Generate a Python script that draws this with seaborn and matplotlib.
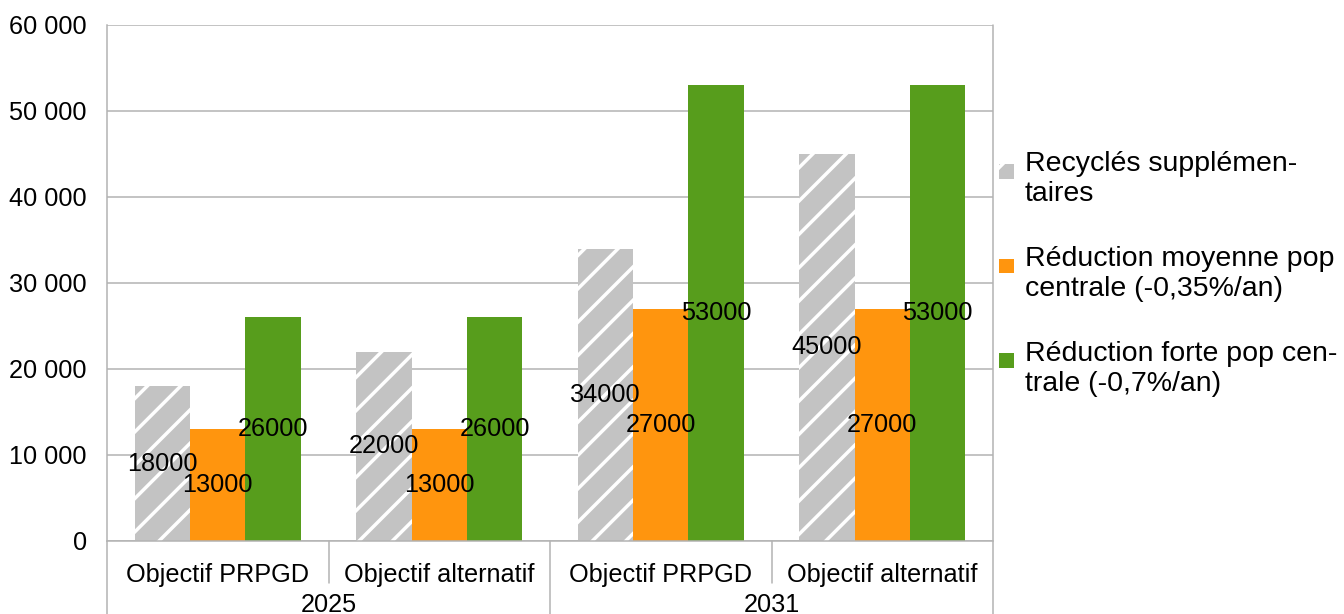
"""Recyclés supplémentaires vs réduction de population, objectifs 2025 / 2031."""

import matplotlib

matplotlib.use("Agg")
import matplotlib.pyplot as plt
import matplotlib.transforms as mtransforms
import pandas as pd
import seaborn as sns
from matplotlib.legend_handler import HandlerPatch
from matplotlib.patches import Patch, Rectangle
from matplotlib.ticker import FuncFormatter, MultipleLocator

# --- data -------------------------------------------------------------------
annees = ["2025", "2031"]
objectifs = ["Objectif PRPGD", "Objectif alternatif"]
series = [
    "Recyclés supplémen-\ntaires",
    "Réduction moyenne pop\ncentrale (-0,35%/an)",
    "Réduction forte pop cen-\ntrale (-0,7%/an)",
]
recycles = [18000, 22000, 34000, 45000]
reduction_moyenne = [13000, 13000, 27000, 27000]
reduction_forte = [26000, 26000, 53000, 53000]

couleurs = ["#c3c3c3", "#ff950e", "#579d1c"]
GRIS = "#b3b3b3"

cles = [f"{a} {o}" for a in annees for o in objectifs]
df = pd.concat(
    [
        pd.DataFrame({"cle": cles, "serie": s, "valeur": v})
        for s, v in zip(series, [recycles, reduction_moyenne, reduction_forte])
    ],
    ignore_index=True,
)

# --- figure -----------------------------------------------------------------
DPI = 100
W, H = 1344, 614
sns.set_style("white")
plt.rcParams["font.family"] = ["Liberation Sans", "DejaVu Sans"]
plt.rcParams["text.color"] = "black"
plt.rcParams["ytick.labelcolor"] = "black"
plt.rcParams["hatch.linewidth"] = 2.5
FS = 18.2
FS_LEG = 20.5

fig = plt.figure(figsize=(W / DPI, H / DPI), dpi=DPI)
x0, x1, y0, y1 = 107, 993, 25, 541
ax = fig.add_axes([x0 / W, 1 - y1 / H, (x1 - x0) / W, (y1 - y0) / H])
ax.set_axisbelow(True)

sns.barplot(
    data=df, x="cle", y="valeur", hue="serie", order=cles, hue_order=series,
    palette=dict(zip(series, couleurs)), width=0.75, saturation=1,
    legend=False, ax=ax, err_kws={"linewidth": 0},
)

for i, cont in enumerate(ax.containers):
    for bar in cont:
        bar.set_linewidth(0)
        if i == 0:
            bar.set_edgecolor("white")
            bar.set_hatch("/")
    ax.bar_label(cont, fmt="{:.0f}", label_type="center", fontsize=FS, color="black")

ax.set_xlim(-0.5, len(cles) - 0.5)
ax.set_ylim(0, 60000)
ax.yaxis.set_major_locator(MultipleLocator(10000))
ax.yaxis.set_major_formatter(FuncFormatter(lambda v, _: f"{int(v):,}".replace(",", " ")))
ax.grid(axis="y", color=GRIS, linewidth=1.1)
ax.tick_params(axis="y", length=8.5, width=1.1, color=GRIS, labelsize=FS,
               labelcolor="black", pad=6)
ax.tick_params(axis="x", length=0)
ax.set_xticks(range(len(cles)))
ax.set_xticklabels([])
ax.set_xlabel("")
ax.set_ylabel("")
for side in ["top", "right"]:
    ax.spines[side].set_visible(False)
for side in ["left", "bottom"]:
    ax.spines[side].set_color(GRIS)
    ax.spines[side].set_linewidth(1.1)

# two-level category axis
trans = mtransforms.blended_transform_factory(ax.transData, ax.transAxes)
bas = -(H - y1) / (y1 - y0)
milieu = -(583 - y1) / (y1 - y0)
for xb in [-0.5, 1.5, 3.5]:
    ax.plot([xb, xb], [0, bas] if xb != 3.5 else [1, bas], color=GRIS, lw=1.1,
            transform=trans, clip_on=False)
for xb in [0.5, 2.5]:
    ax.plot([xb, xb], [0, milieu], color=GRIS, lw=1.1, transform=trans, clip_on=False)
for i, k in enumerate(cles):
    ax.text(i, -(575 - y1) / (y1 - y0), objectifs[i % 2], transform=trans,
            ha="center", va="center", fontsize=FS, color="black")
for j, a in enumerate(annees):
    ax.text(2 * j + 0.5, -(605 - y1) / (y1 - y0), a, transform=trans,
            ha="center", va="center", fontsize=FS, color="black")


# legend: square handle aligned with the first line of the label
def _carre(legend, orig_handle, xdescent, ydescent, width, height, fontsize):
    s = 0.52 * fontsize
    return Rectangle((-xdescent, -ydescent + height - s - 0.2 * fontsize), s, s)


handles = [Patch(facecolor=couleurs[0], edgecolor="white", hatch="/", linewidth=0)]
handles += [Patch(facecolor=c, edgecolor=c, linewidth=0) for c in couleurs[1:]]
leg = fig.legend(
    handles, series, loc="center left", bbox_to_anchor=(988 / W, 1 - 274 / H),
    frameon=False, fontsize=FS_LEG, handlelength=0.55, handleheight=2.0,
    handletextpad=0.35, labelspacing=1.36, borderaxespad=0,
    handler_map={Patch: HandlerPatch(patch_func=_carre)},
)
for t in leg.get_texts():
    t.set_color("black")

fig.savefig("out.png", dpi=DPI)
